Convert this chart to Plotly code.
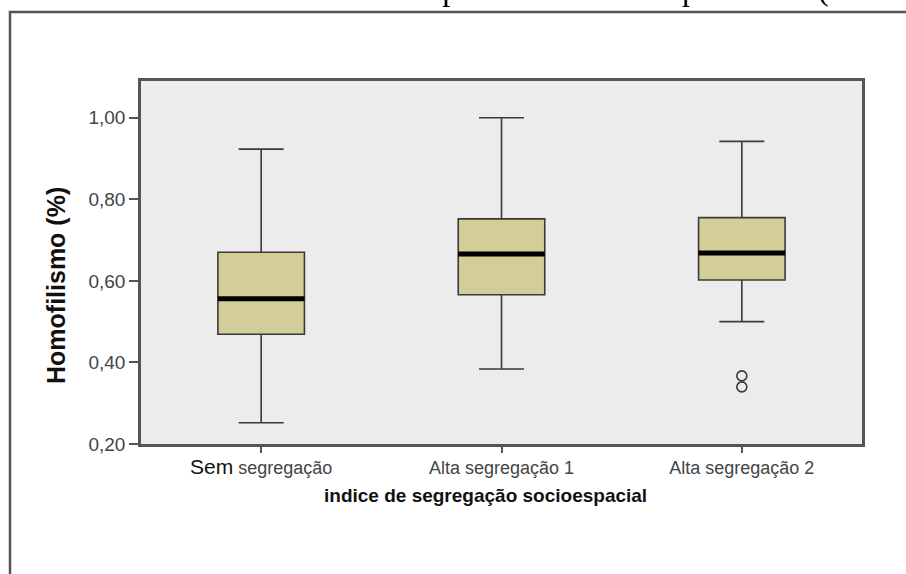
import plotly.graph_objects as go

categorias = ["Sem segregação", "Alta segregação 1", "Alta segregação 2"]
rotulos = ["<span style='font-size:21px;color:#111111'>Sem</span> segregação",
           "Alta segregação 1", "Alta segregação 2"]
minimo = [0.252, 0.384, 0.500]
q1 = [0.469, 0.566, 0.602]
mediana = [0.556, 0.666, 0.668]
q3 = [0.670, 0.752, 0.755]
maximo = [0.923, 1.000, 0.942]
atipicos_x = ["Alta segregação 2", "Alta segregação 2"]
atipicos_y = [0.367, 0.340]
y_ticks = [0.20, 0.40, 0.60, 0.80, 1.00]

W, H = 906, 574
ML, MR, MT, MB = 141, 44, 81, 130
PW, PH = W - ML - MR, H - MT - MB


def px(x):
    return (x - ML) / PW


def py(y):
    return (H - MB - y) / PH


LINHA = "#3a3a3a"
MOLDURA = "#555555"

fig = go.Figure()
fig.add_trace(go.Box(
    x=categorias, q1=q1, median=mediana, q3=q3,
    lowerfence=minimo, upperfence=maximo,
    fillcolor="#D3CE97", line=dict(color=LINHA, width=1.6),
    width=0.36, whiskerwidth=0.52, boxpoints=False, showlegend=False,
))
# linha da mediana mais grossa, como no SPSS
fig.add_trace(go.Box(
    x=categorias, q1=mediana, median=mediana, q3=mediana,
    lowerfence=mediana, upperfence=mediana,
    fillcolor="rgba(0,0,0,0)", line=dict(color="#000000", width=5),
    width=0.36, whiskerwidth=0, boxpoints=False, showlegend=False,
))
fig.add_trace(go.Scatter(
    x=atipicos_x, y=atipicos_y, mode="markers",
    marker=dict(symbol="circle-open", size=10, color=LINHA, line=dict(width=1.6)),
    showlegend=False,
))

# moldura externa da figura (cortada à direita e embaixo)
fig.add_shape(type="rect", xref="paper", yref="paper",
              x0=px(10), x1=px(W + 40), y0=py(12), y1=py(H + 40),
              line=dict(color=MOLDURA, width=2.5), layer="below")

# legenda do documento, quase toda fora do recorte
fig.add_annotation(xref="paper", yref="paper", x=px(126), y=py(9),
                   xanchor="left", yanchor="bottom", showarrow=False,
                   text="Teste de Kruskal-Wallis para amostras independentes (Homofilismo)",
                   font=dict(family="Liberation Serif", size=32, color="#000000"))
fig.add_annotation(xref="paper", yref="paper", x=px(56), y=py(286),
                   xanchor="center", yanchor="middle",
                   textangle=-90, showarrow=False, text="<b>Homofilismo (%)</b>",
                   font=dict(family="Liberation Sans", size=25, color="#111111"))
fig.add_annotation(xref="paper", yref="paper", x=px(485), y=py(495),
                   xanchor="center", yanchor="middle",
                   showarrow=False, text="<b>indice de segregação socioespacial</b>",
                   font=dict(family="Liberation Sans", size=19, color="#111111"))

fig.update_layout(
    width=W, height=H, margin=dict(l=ML, r=MR, t=MT, b=MB),
    paper_bgcolor="white", plot_bgcolor="#ECECEC",
    separators=",.", boxmode="overlay",
    font=dict(family="Liberation Sans", size=18, color="#444444"),
    xaxis=dict(type="category", range=[-0.5, 2.5], tickvals=categorias, ticktext=rotulos,
               ticks="outside", ticklen=6, tickwidth=1.5, tickcolor=MOLDURA,
               showline=True, mirror=True, linecolor=MOLDURA, linewidth=2.5,
               showgrid=False, zeroline=False),
    yaxis=dict(range=[0.20, 1.09], tickvals=y_ticks, tickformat=".2f",
               ticks="outside", ticklen=9, tickwidth=1.5, tickcolor=MOLDURA,
               tickfont=dict(size=19),
               showline=True, mirror=True, linecolor=MOLDURA, linewidth=2.5,
               showgrid=False, zeroline=False),
)

# a página não deve ter margem, para a figura ocupar a janela inteira
fig.write_html("out.html", config={"displayModeBar": False},
               post_script="document.body.style.margin='0px';")
